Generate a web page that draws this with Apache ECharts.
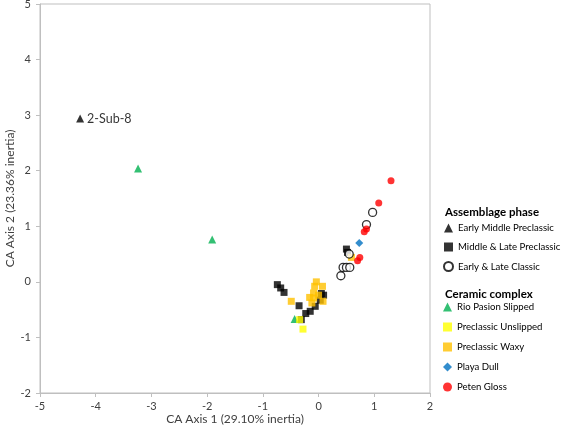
<!DOCTYPE html>
<html>
<head>
<meta charset="utf-8">
<script src="https://cdn.jsdelivr.net/npm/echarts@6/dist/echarts.min.js"></script>
<style>
html,body{margin:0;padding:0;background:#fff;}
#chart{width:562px;height:434px;}
</style>
</head>
<body>
<div id="chart"></div>
<script>
var xTicks = [-5, -4, -3, -2, -1, 0, 1, 2];
var yTicks = [-2, -1, 0, 1, 2, 3, 4, 5];

var earlyMiddlePreclassic = [[-4.28, 2.94]];
var earlyMiddleLabels = ['2-Sub-8'];
var rioPasionSlipped = [[-3.24, 2.04], [-1.91, 0.76], [-0.43, -0.67]];
var middleLatePreclassic = [[-0.74, -0.05], [-0.68, -0.11], [-0.62, -0.19], [-0.35, -0.43], [-0.31, -0.68],
  [-0.23, -0.57], [-0.15, -0.53], [-0.06, -0.44], [0.03, -0.33], [0.09, -0.24], [0.05, -0.21],
  [0.50, 0.59], [0.52, 0.53]];
var preclassicUnslipped = [[-0.34, -0.68], [-0.28, -0.85]];
var preclassicWaxy = [[-0.49, -0.35], [-0.04, 0.00], [-0.07, -0.08], [0.07, -0.08], [-0.09, -0.20],
  [-0.16, -0.28], [-0.09, -0.29], [0.00, -0.24], [0.08, -0.35], [-0.12, -0.38], [0.59, 0.44]];
var earlyLateClassic = [[0.97, 1.25], [0.86, 1.03], [0.55, 0.50], [0.44, 0.26], [0.50, 0.26], [0.56, 0.26], [0.40, 0.11]];
var playaDull = [[0.73, 0.70]];
var petenGloss = [[1.30, 1.82], [1.08, 1.42], [0.86, 0.95], [0.82, 0.90], [0.74, 0.44], [0.70, 0.38]];

var FONT = 'Lato';
var chart = echarts.init(document.getElementById('chart'), null, {renderer: 'canvas'});

var axisCommon = {
  axisLine: {show: true, onZero: false, lineStyle: {color: '#bfbfbf', width: 1}},
  axisTick: {show: true, length: 4, lineStyle: {color: '#bfbfbf'}},
  splitLine: {show: false},
  nameMoveOverlap: false,
  axisLabel: {color: '#404040', fontFamily: FONT, fontSize: 11},
  nameTextStyle: {color: '#404040', fontFamily: FONT, fontSize: 12}
};

chart.setOption({
  animation: false,
  backgroundColor: '#fff',
  grid: {left: 40, top: 4, width: 390, height: 389, show: true, borderColor: '#bfbfbf', borderWidth: 1,
    containLabel: false, outerBoundsMode: 'none'},
  xAxis: Object.assign({}, axisCommon, {
    type: 'value', min: xTicks[0], max: xTicks[xTicks.length - 1], interval: 1,
    name: 'CA Axis 1 (29.10% inertia)', nameLocation: 'middle', nameGap: 20,
    axisLabel: Object.assign({}, axisCommon.axisLabel, {margin: 8})
  }),
  yAxis: Object.assign({}, axisCommon, {
    type: 'value', min: yTicks[0], max: yTicks[yTicks.length - 1], interval: 1,
    name: 'CA Axis 2 (23.36% inertia)', nameLocation: 'middle', nameGap: 24, nameRotate: 90,
    axisLabel: Object.assign({}, axisCommon.axisLabel, {margin: 9})
  }),
  legend: [{
    orient: 'vertical', left: 443, top: 223, itemGap: 9, itemWidth: 9, itemHeight: 9, padding: 0,
    textStyle: {fontFamily: FONT, fontSize: 9.6, color: '#000'},
    data: ['Early Middle Preclassic', 'Middle & Late Preclassic', 'Early & Late Classic']
  }, {
    orient: 'vertical', left: 443, top: 302, itemGap: 10, itemWidth: 9, itemHeight: 9, padding: 0,
    textStyle: {fontFamily: FONT, fontSize: 9.6, color: '#000'},
    data: ['Rio Pasion Slipped', 'Preclassic Unslipped', 'Preclassic Waxy', 'Playa Dull', 'Peten Gloss']
  }],
  graphic: [
    {type: 'text', left: 445, top: 206, style: {text: 'Assemblage phase', fontFamily: FONT, fontSize: 11.5, fontWeight: 'bold', fill: '#000'}},
    {type: 'text', left: 445, top: 288, style: {text: 'Ceramic complex', fontFamily: FONT, fontSize: 11.5, fontWeight: 'bold', fill: '#000'}}
  ],
  series: [
    {name: 'Early Middle Preclassic', type: 'scatter', symbol: 'triangle', symbolSize: 8,
      itemStyle: {color: '#000'},
      data: earlyMiddlePreclassic.map(function (d, i) { return {value: d, name: earlyMiddleLabels[i]}; }),
      label: {show: true, position: 'right', distance: 3, formatter: '{b}', fontFamily: FONT, fontSize: 12.5, color: '#000'}},
    {name: 'Middle & Late Preclassic', type: 'scatter', symbol: 'rect', symbolSize: 7,
      itemStyle: {color: '#000'}, data: middleLatePreclassic},
    {name: 'Rio Pasion Slipped', type: 'scatter', symbol: 'triangle', symbolSize: 8,
      itemStyle: {color: '#00b050'}, data: rioPasionSlipped},
    {name: 'Preclassic Unslipped', type: 'scatter', symbol: 'rect', symbolSize: 7,
      itemStyle: {color: '#ffff00'}, data: preclassicUnslipped},
    {name: 'Preclassic Waxy', type: 'scatter', symbol: 'rect', symbolSize: 7,
      itemStyle: {color: '#ffc000'}, data: preclassicWaxy},
    {name: 'Early & Late Classic', type: 'scatter', symbol: 'circle', symbolSize: 8,
      itemStyle: {color: '#fff', borderColor: '#000', borderWidth: 1.3}, data: earlyLateClassic},
    {name: 'Playa Dull', type: 'scatter', symbol: 'diamond', symbolSize: 8,
      itemStyle: {color: '#0070c0'}, data: playaDull},
    {name: 'Peten Gloss', type: 'scatter', symbol: 'circle', symbolSize: 7,
      itemStyle: {color: '#ff0000'}, data: petenGloss}
  ]
});
</script>
</body>
</html>
